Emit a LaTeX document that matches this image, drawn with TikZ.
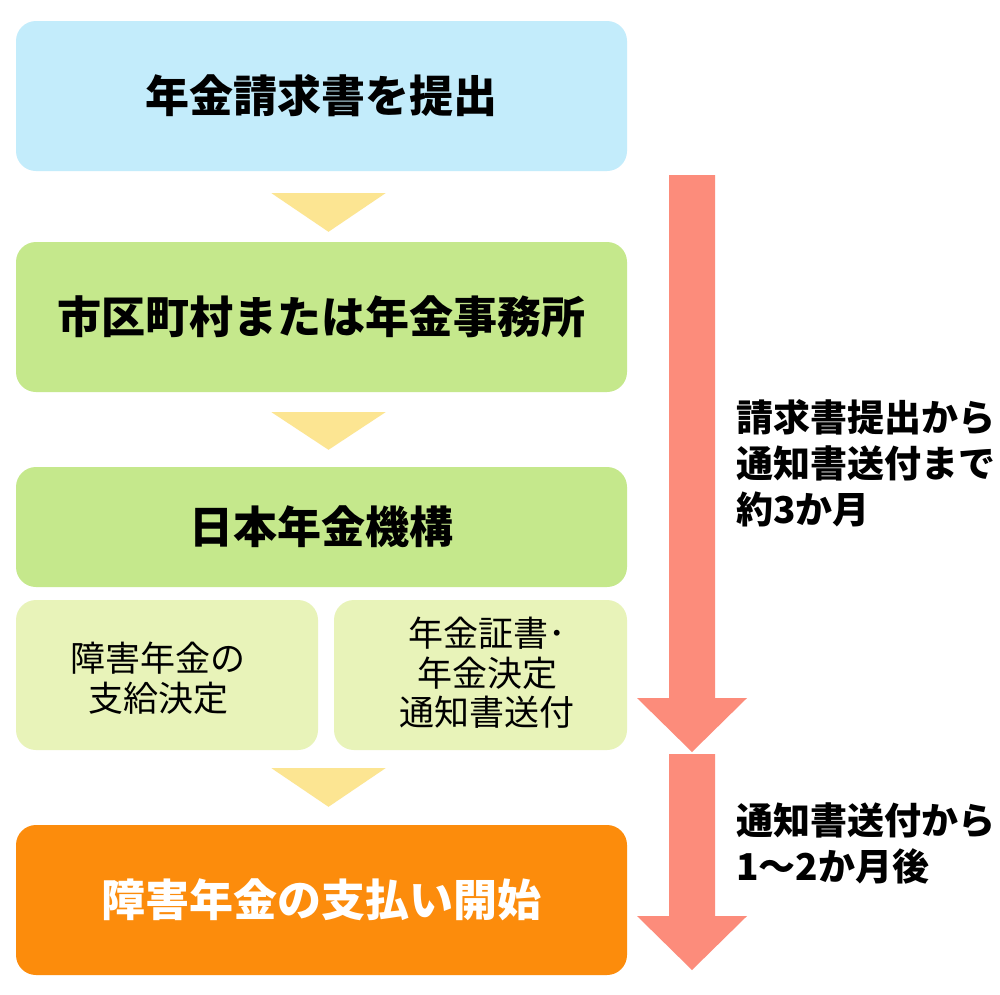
\documentclass[tikz,border=0pt]{standalone}
\usepackage{fontspec}
\setmainfont{Noto Sans CJK JP}
\usetikzlibrary{calc}
\definecolor{cblue}{HTML}{C3ECFB}
\definecolor{cgreen}{HTML}{C5E88C}
\definecolor{cpale}{HTML}{E8F3B9}
\definecolor{corange}{HTML}{FC8C0C}
\definecolor{ctri}{HTML}{FCE592}
\definecolor{cred}{HTML}{FC8C7B}
\begin{document}
\begin{tikzpicture}[x=1pt,y=-1pt,
  mainbox/.style={rounded corners=20pt, minimum width=611pt, minimum height=150pt, inner sep=0pt,
    font=\fontsize{44}{50}\selectfont\bfseries},
  subbox/.style={rounded corners=20pt, minimum height=150pt, inner sep=0pt, fill=cpale},
  subtxt/.style={align=center, inner sep=0pt, font=\fontsize{35}{39.5}\selectfont},
  sidetxt/.style={align=left, anchor=west, inner sep=0pt, font=\fontsize{37}{46}\selectfont\bfseries},
  tri/.style={fill=ctri},
  bigarrow/.style={fill=cred}]
\useasboundingbox (0,0) rectangle (1000,994);
\fill[white] (0,0) rectangle (1000,994);

\node[mainbox, fill=cblue] (n1) at (321.5,96) {年金請求書を提出};
\node[mainbox, fill=cgreen] (n2) at (321.5,317) {市区町村または年金事務所};
\node[mainbox, fill=cgreen, minimum height=120pt] (n3) at (321.5,527) {日本年金機構};
\node[subbox, minimum width=302pt] (s1) at (167,675) {};
\node[subbox, minimum width=293pt] (s2) at (480.5,675) {};
\node[subtxt] (s1t) at (158,678) {障害年金の\\支給決定};
\node[subtxt] (s2t) at (487,673) {年金証書･\\年金決定\\通知書送付};
\node[mainbox, fill=corange, text=white] (n4) at (321.5,900) {障害年金の支払い開始};

% yellow triangles
\fill[tri] ($(n1.south)+(-50,22)$) -- ($(n1.south)+(64,22)$) -- ($(n2.north)+(7,-10)$) -- cycle;
\fill[tri] ($(n2.south)+(-50,20)$) -- ($(n2.south)+(64,20)$) -- ($(n3.north)+(7,-17)$) -- cycle;
\fill[tri] ($(n3.south)+(-50,181)$) -- ($(n3.south)+(64,181)$) -- ($(n4.north)+(7,-18)$) -- cycle;

% red arrows
\coordinate (a1s) at (692,175);
\coordinate (a1e) at (692,752);
\coordinate (a2s) at (692,754);
\coordinate (a2e) at (692,970);
\fill[bigarrow] ($(a1s)+(-23,0)$) -- ($(a1s)+(23,0)$) -- ($(a1e)+(23,-54)$) -- ($(a1e)+(55,-54)$)
  -- (a1e) -- ($(a1e)+(-55,-54)$) -- ($(a1e)+(-23,-54)$) -- cycle;
\fill[bigarrow] ($(a2s)+(-23,0)$) -- ($(a2s)+(23,0)$) -- ($(a2e)+(23,-54)$) -- ($(a2e)+(55,-54)$)
  -- (a2e) -- ($(a2e)+(-55,-54)$) -- ($(a2e)+(-23,-54)$) -- cycle;

\node[sidetxt] (l1) at (736,463) {請求書提出から\\通知書送付まで\\約3か月};
\node[sidetxt] (l2) at (736,843) {通知書送付から\\1〜2か月後};
\end{tikzpicture}
\end{document}
